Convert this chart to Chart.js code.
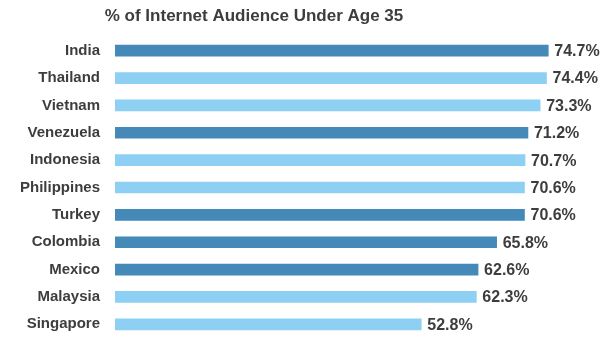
<!DOCTYPE html>
<html>
<head>
<meta charset="utf-8">
<script src="https://cdn.jsdelivr.net/npm/chart.js@4/dist/chart.umd.min.js"></script>
<style>
  html, body { margin: 0; padding: 0; background: #fff; overflow: hidden; }
</style>
</head>
<body>
<canvas id="chart_1" width="609" height="347"></canvas>
<script>
// data
var title = "% of Internet Audience Under Age 35";
var countries = ["India", "Thailand", "Vietnam", "Venezuela", "Indonesia", "Philippines",
                 "Turkey", "Colombia", "Mexico", "Malaysia", "Singapore"];
var shareUnder35 = [74.7, 74.4, 73.3, 71.2, 70.7, 70.6, 70.6, 65.8, 62.6, 62.3, 52.8];
var darkCountries = ["India", "Venezuela", "Turkey", "Colombia", "Mexico"];

var DARK = "#4589b9";
var LIGHT = "#8ed0f4";
var TEXT = "#3d3d3d";
var FONT = "'Liberation Sans', Arial, sans-serif";

// title + value labels
var extras = {
    id: "extras",
    afterDraw: function(chart) {
        var ctx = chart.ctx;
        ctx.save();
        ctx.fillStyle = TEXT;
        ctx.font = "bold 17px " + FONT;
        ctx.textAlign = "center";
        ctx.textBaseline = "alphabetic";
        ctx.fillText(title, 254, 21);

        ctx.font = "bold 16px " + FONT;
        ctx.textAlign = "left";
        ctx.textBaseline = "middle";
        chart.getDatasetMeta(0).data.forEach(function(bar, i) {
            ctx.fillText(shareUnder35[i].toFixed(1) + "%", bar.x + 6, bar.y + 1);
        });
        ctx.restore();
    }
};

new Chart(document.getElementById("chart_1"),
    {
        "type": "bar",
        "data": {
            labels: countries,
            "datasets": [
                {
                    "data": shareUnder35,
                    "backgroundColor": countries.map(function(c) {
                        return darkCountries.indexOf(c) >= 0 ? DARK : LIGHT;
                    }),
                    "borderWidth": 0,
                    "barThickness": 11
                }
            ]
        },
        "options": {
            indexAxis: "y",
            responsive: false,
            animation: false,
            layout: { padding: { top: 37, bottom: 9, left: 0, right: 30 } },
            plugins: {
                legend: { display: false },
                tooltip: { enabled: false }
            },
            scales: {
                x: {
                    display: false,
                    min: 0,
                    max: 80
                },
                y: {
                    // tickLength pushes labels left without adding top/bottom padding
                    grid: { display: false, drawTicks: true, tickLength: 15 },
                    border: { display: false },
                    ticks: {
                        color: TEXT,
                        padding: 0,
                        font: { family: FONT, size: 15, weight: "bold" }
                    },
                    afterFit: function(scale) { scale.width = 115; }
                }
            }
        },
        plugins: [extras]
    });
</script>
</body>
</html>
